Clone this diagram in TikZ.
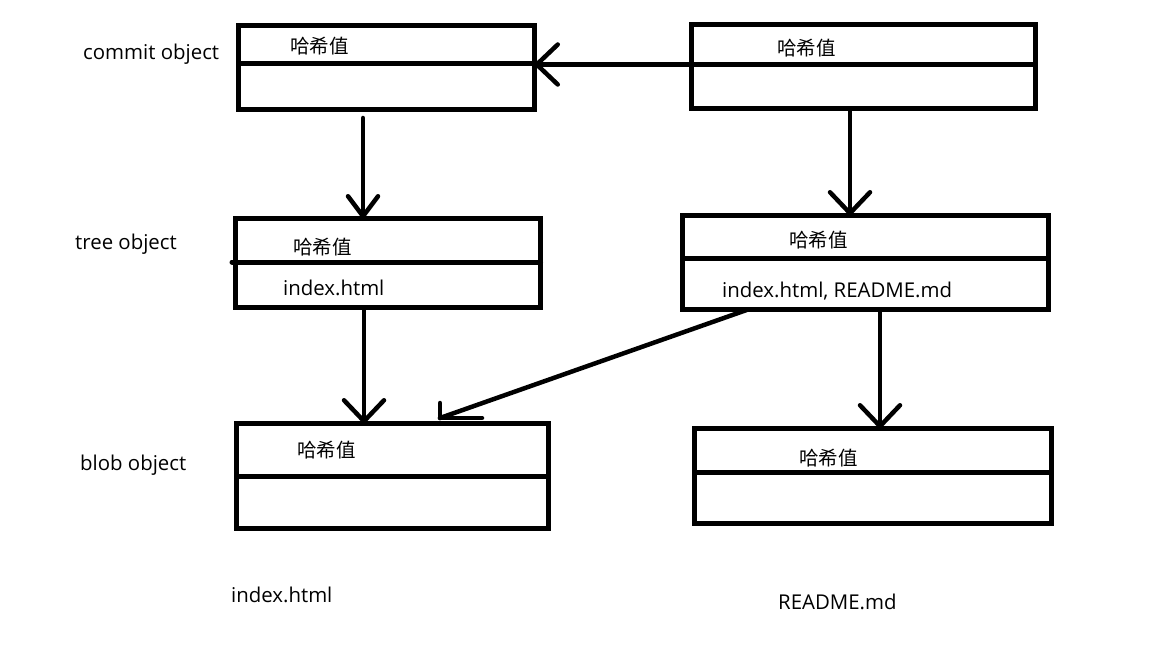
\documentclass[tikz,border=0pt]{standalone}
\usepackage{fontspec}
\setmainfont{Open Sans}
\newfontfamily\cjk{Noto Sans CJK SC}
\usetikzlibrary{arrows.meta}
\begin{document}
\begin{tikzpicture}[x=1pt,y=-1pt,
  box/.style={draw, line width=5pt, rectangle, inner sep=0pt, outer sep=0pt},
  divline/.style={line width=5pt},
  conn/.style={line width=4.5pt, line cap=round, -{Straight Barb[length=21pt,width=40pt,round]}},
  arm/.style={line width=4.5pt, line cap=round},
  hash/.style={anchor=west, inner sep=0pt, font=\cjk\fontsize{19.5}{22}\selectfont},
  lbl/.style={anchor=base west, inner sep=0pt, font=\fontsize{20.4}{24}\selectfont}]
\useasboundingbox[fill=white] (0,0) rectangle (1158,660);

% boxes
\node[box, minimum width=296pt, minimum height=84pt] (A) at (386.5,67.5) {};
\node[box, minimum width=344pt, minimum height=84pt] (B) at (863.5,66.5) {};
\node[box, minimum width=305pt, minimum height=89pt] (C) at (388,263) {};
\node[box, minimum width=366pt, minimum height=94pt] (D) at (865.5,262.5) {};
\node[box, minimum width=312pt, minimum height=105pt] (E) at (392.5,476) {};
\node[box, minimum width=357pt, minimum height=95pt] (F) at (873,476) {};

% dividers
\draw[divline] (A.west |- 0,64) -- (A.east |- 0,64);
\draw[divline] (B.west |- 0,64.5) -- (B.east |- 0,64.5);
\draw[divline, line cap=round] (232,262) -- (C.east |- 0,262);
\draw[divline] (D.west |- 0,258) -- (D.east |- 0,258);
\draw[divline] (E.west |- 0,476) -- (E.east |- 0,476);
\draw[divline] (F.west |- 0,472) -- (F.east |- 0,472);

% labels
\node[lbl] (lc) at (83,60) {commit object};
\node[lbl] (lt) at (75,249) {tree object};
\node[lbl] (lb) at (80,470) {blob object};

\node[hash] (hA) at (290,46.5) {哈希值};
\node[hash] (hB) at (777,48) {哈希值};
\node[hash] (hC) at (293,247) {哈希值};
\node[hash] (hD) at (789,240) {哈希值};
\node[hash] (hE) at (297,450) {哈希值};
\node[hash] (hF) at (799,458) {哈希值};

\node[lbl] (fC) at (283,295) {index.html};
\node[lbl] (fD) at (722,297) {index.html, README.md};
\node[lbl] (fE) at (231,602) {index.html};
\node[lbl] (fF) at (778,609) {README.md};

% connectors
\draw[conn] (B.west |- 0,64.5) -- (A.east |- 0,64.5);
\coordinate (a1) at (363,118);
\draw[conn, -{Straight Barb[length=20pt,width=30pt,round]}] (a1) -- (C.north -| a1);
\draw[conn] (B.south -| 850,0) -- (D.north -| 850,0);
\draw[conn] (C.south -| 364,0) -- (E.north -| 364,0);
\draw[conn] (D.south -| 880,0) -- (F.north -| 880,0);
\coordinate (t) at (440,418);
\draw[arm] (D.south -| 748,0) -- (t);
\draw[arm] (t) -- ++(0,-15);
\draw[arm] (t) -- ++(42,0);
\end{tikzpicture}
\end{document}
